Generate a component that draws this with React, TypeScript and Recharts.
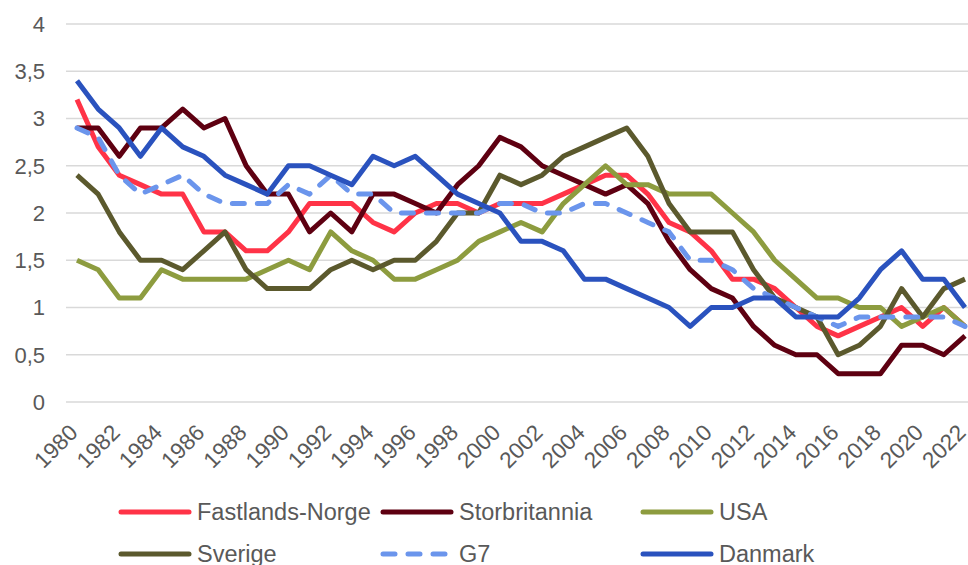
import { LineChart, Line, XAxis, YAxis, CartesianGrid } from "recharts";

const years = [
  "1980", "1981", "1982", "1983", "1984", "1985", "1986", "1987", "1988", "1989",
  "1990", "1991", "1992", "1993", "1994", "1995", "1996", "1997", "1998", "1999",
  "2000", "2001", "2002", "2003", "2004", "2005", "2006", "2007", "2008", "2009",
  "2010", "2011", "2012", "2013", "2014", "2015", "2016", "2017", "2018", "2019",
  "2020", "2021", "2022",
];

const fastlandsNorge = [
  3.2, 2.7, 2.4, 2.3, 2.2, 2.2, 1.8, 1.8, 1.6, 1.6,
  1.8, 2.1, 2.1, 2.1, 1.9, 1.8, 2.0, 2.1, 2.1, 2.0,
  2.1, 2.1, 2.1, 2.2, 2.3, 2.4, 2.4, 2.2, 1.9, 1.8,
  1.6, 1.3, 1.3, 1.2, 1.0, 0.8, 0.7, 0.8, 0.9, 1.0,
  0.8, 1.0, 0.8,
];

const storbritannia = [
  2.9, 2.9, 2.6, 2.9, 2.9, 3.1, 2.9, 3.0, 2.5, 2.2,
  2.2, 1.8, 2.0, 1.8, 2.2, 2.2, 2.1, 2.0, 2.3, 2.5,
  2.8, 2.7, 2.5, 2.4, 2.3, 2.2, 2.3, 2.1, 1.7, 1.4,
  1.2, 1.1, 0.8, 0.6, 0.5, 0.5, 0.3, 0.3, 0.3, 0.6,
  0.6, 0.5, 0.7,
];

const usa = [
  1.5, 1.4, 1.1, 1.1, 1.4, 1.3, 1.3, 1.3, 1.3, 1.4,
  1.5, 1.4, 1.8, 1.6, 1.5, 1.3, 1.3, 1.4, 1.5, 1.7,
  1.8, 1.9, 1.8, 2.1, 2.3, 2.5, 2.3, 2.3, 2.2, 2.2,
  2.2, 2.0, 1.8, 1.5, 1.3, 1.1, 1.1, 1.0, 1.0, 0.8,
  0.9, 1.0, 0.8,
];

const sverige = [
  2.4, 2.2, 1.8, 1.5, 1.5, 1.4, 1.6, 1.8, 1.4, 1.2,
  1.2, 1.2, 1.4, 1.5, 1.4, 1.5, 1.5, 1.7, 2.0, 2.0,
  2.4, 2.3, 2.4, 2.6, 2.7, 2.8, 2.9, 2.6, 2.1, 1.8,
  1.8, 1.8, 1.4, 1.1, 1.0, 0.9, 0.5, 0.6, 0.8, 1.2,
  0.9, 1.2, 1.3,
];

const g7 = [
  2.9, 2.8, 2.4, 2.2, 2.3, 2.4, 2.2, 2.1, 2.1, 2.1,
  2.3, 2.2, 2.4, 2.2, 2.2, 2.0, 2.0, 2.0, 2.0, 2.0,
  2.1, 2.1, 2.0, 2.0, 2.1, 2.1, 2.0, 1.9, 1.8, 1.5,
  1.5, 1.4, 1.2, 1.1, 1.0, 0.9, 0.8, 0.9, 0.9, 0.9,
  0.9, 0.9, 0.8,
];

const danmark = [
  3.4, 3.1, 2.9, 2.6, 2.9, 2.7, 2.6, 2.4, 2.3, 2.2,
  2.5, 2.5, 2.4, 2.3, 2.6, 2.5, 2.6, 2.4, 2.2, 2.1,
  2.0, 1.7, 1.7, 1.6, 1.3, 1.3, 1.2, 1.1, 1.0, 0.8,
  1.0, 1.0, 1.1, 1.1, 0.9, 0.9, 0.9, 1.1, 1.4, 1.6,
  1.3, 1.3, 1.0,
];

const yTicks = [0, 0.5, 1, 1.5, 2, 2.5, 3, 3.5, 4];

const series = [
  { key: "fastlandsNorge", name: "Fastlands-Norge", color: "#FF3347", values: fastlandsNorge, dashed: false },
  { key: "storbritannia", name: "Storbritannia", color: "#5E0011", values: storbritannia, dashed: false },
  { key: "usa", name: "USA", color: "#8D9C3F", values: usa, dashed: false },
  { key: "sverige", name: "Sverige", color: "#5B592D", values: sverige, dashed: false },
  { key: "g7", name: "G7", color: "#6B95EC", values: g7, dashed: true },
  { key: "danmark", name: "Danmark", color: "#2A52BE", values: danmark, dashed: false },
];

const data = years.map((year, i) => {
  const row: Record<string, string | number> = { year };
  series.forEach((s) => {
    row[s.key] = s.values[i];
  });
  return row;
});

const FONT = '"Liberation Sans", Arial, sans-serif';
const TEXT = "#595959";

const YearTick = (props: any) => {
  const { x, y, payload } = props;
  return (
    <text
      x={0}
      y={0}
      transform={`translate(${x + 2},${y + 32}) rotate(-45)`}
      textAnchor="end"
      fill={TEXT}
      fontSize={22.5}
      fontFamily={FONT}
    >
      {payload.value}
    </text>
  );
};

// legend laid out like the Excel original: 3 columns, 2 rows
const legendCols = [118, 380, 640];
const legendRows = [512, 554];

function ChartLegend() {
  return (
    <>
      {series.map((s, i) => {
        const left = legendCols[i % 3];
        const top = legendRows[Math.floor(i / 3)];
        return (
          <div
            key={s.key}
            style={{ position: "absolute", left, top: top - 15, height: 30, display: "flex", alignItems: "center" }}
          >
            <svg width={74} height={10} style={{ display: "block" }}>
              <line
                x1={3}
                y1={5}
                x2={71}
                y2={5}
                stroke={s.color}
                strokeWidth={5}
                strokeLinecap="round"
                strokeDasharray={s.dashed ? "12 13" : undefined}
              />
            </svg>
            <span style={{ marginLeft: 5, fontFamily: FONT, fontSize: 23.5, color: TEXT, whiteSpace: "nowrap" }}>
              {s.name}
            </span>
          </div>
        );
      })}
    </>
  );
}

export default function App() {
  return (
    <div
      style={{
        position: "absolute",
        left: 0,
        top: 0,
        width: 968,
        height: 565,
        overflow: "hidden",
        background: "#ffffff",
      }}
    >
      <LineChart width={968} height={565} data={data} margin={{ top: 24, right: 0, left: 0, bottom: 0 }}>
        <CartesianGrid vertical={false} stroke="#D9D9D9" strokeWidth={1.5} />
        <XAxis
          dataKey="year"
          interval={1}
          height={163}
          axisLine={false}
          tickLine={false}
          tickSize={0}
          tickMargin={0}
          padding={{ left: 11, right: 3 }}
          tick={<YearTick />}
        />
        <YAxis
          domain={[0, 4]}
          ticks={yTicks}
          width={66}
          axisLine={false}
          tickLine={false}
          tickSize={0}
          tickMargin={21}
          tick={{ fill: TEXT, fontSize: 22, fontFamily: FONT }}
          tickFormatter={(v) => String(v).replace(".", ",")}
        />
        {series.map((s) => (
          <Line
            key={s.key}
            type="linear"
            dataKey={s.key}
            name={s.name}
            stroke={s.color}
            strokeWidth={5}
            strokeLinejoin="round"
            strokeLinecap={s.dashed ? "round" : "butt"}
            strokeDasharray={s.dashed ? "12 13" : undefined}
            dot={false}
            activeDot={false}
            isAnimationActive={false}
          />
        ))}
      </LineChart>
      <ChartLegend />
    </div>
  );
}
